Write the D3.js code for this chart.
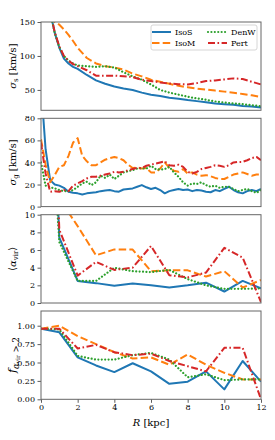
<!DOCTYPE html>
<html>
<head>
<meta charset="utf-8">
<script src="https://cdn.jsdelivr.net/npm/d3@7"></script>
<style>
  body { margin: 0; background: #fff; }
  svg text { font-family: "DejaVu Serif", serif; fill: #000; }
</style>
</head>
<body>
<svg id="chart" width="275" height="440"></svg>
<script>
// series names and colours
const models = ["IsoS", "IsoM", "DenW", "Pert"];
const colors = ["#1f77b4", "#ff7f0e", "#2ca02c", "#d62728"];

// radii for the stellar dispersion profile
const rStar = [0.5, 0.75, 1, 1.25, 1.5, 1.75, 2, 2.5, 3, 3.5, 4, 4.5, 5, 5.5, 6, 6.5, 7, 7.5, 8, 8.5, 9, 9.5, 10, 10.5, 11, 11.5, 12];
const sigStarIsoS = [165, 134, 112, 96, 89, 84, 81, 72, 64, 59, 55, 52, 50, 46, 43, 41, 38.5, 37, 35, 33.5, 32, 30, 29, 28, 26.5, 25.5, 24];
const sigStarIsoM = [175, 150, 146, 139, 131, 122, 112, 97, 89, 85, 83, 80, 74, 70, 65, 62, 59, 56, 54, 52, 50.5, 49, 47.5, 46, 44, 42, 39.5];
const sigStarDenW = [165, 134, 113, 100, 93, 89, 86, 85, 84, 85, 83, 76, 70, 65, 58, 50, 46, 43, 40, 37.5, 35.5, 33, 31.5, 30, 29, 27.5, 26];
const sigStarPert = [166, 135, 114, 100, 93, 88, 85, 79, 71, 71, 71, 70, 69, 65, 63, 61, 59.5, 58.5, 58, 60, 63, 64, 65.5, 67, 66, 62, 58];

// radii for the gas dispersion profile
const rGas = [0, 0.25, 0.5, 0.75, 1, 1.25, 1.5, 1.75, 2, 2.25, 2.5, 2.75, 3, 3.25, 3.5, 3.75, 4, 4.25, 4.5, 4.75, 5, 5.25, 5.5, 5.75, 6, 6.25, 6.5, 6.75, 7, 7.25, 7.5, 7.75, 8, 8.25, 8.5, 8.75, 9, 9.25, 9.5, 9.75, 10, 10.25, 10.5, 10.75, 11, 11.25, 11.5, 11.75, 12];
const sigGasIsoS = [110, 52, 24, 20, 19, 17, 13.5, 12.5, 12, 11, 12, 12.5, 13, 14, 14.5, 15, 14, 13.5, 15.5, 16, 16.5, 18, 19.5, 17.5, 16, 17, 15, 12, 14, 15, 16, 15, 15.5, 14, 15, 14.5, 13.5, 13, 15, 14, 16, 18, 15, 13, 12, 14, 15, 14, 16];
const sigGasIsoM = [61, 38, 22, 28.5, 36, 37.5, 46, 58, 62, 46, 41, 37.5, 37.5, 40, 42.5, 44, 45, 44, 42, 38, 35, 35.5, 34.5, 35, 31, 31, 34.5, 40, 35, 32.5, 31.5, 34, 30, 31, 29, 28, 28.5, 27.5, 26, 25, 25, 27, 29, 30, 31, 29.5, 28, 29, 29];
const sigGasDenW = [40, 19, 17.5, 16.5, 15, 14, 14, 15, 18, 21, 22.5, 19.5, 22, 28, 26, 29, 25, 28, 31, 32, 33, 34.5, 34.5, 34.5, 37, 34, 33.5, 34, 36, 31, 27, 22, 19, 21, 20.5, 22, 19.5, 18, 19, 17, 18, 18, 16, 14, 15, 16, 14, 12.5, 15];
const sigGasPert = [58, 30, 13.5, 14, 13.5, 15, 14, 19, 21, 23, 25.5, 27, 27, 28, 29, 30, 31.5, 31, 31.5, 33, 34, 35, 35, 37, 38, 39, 40, 41, 37.5, 37, 38, 36, 31.5, 30, 31.5, 34, 35, 36, 37.5, 37, 36, 37.5, 40, 40.5, 40.5, 42, 44, 45, 42];

// 1 kpc bins for the virial parameter panels
const rBin = [0, 1, 2, 3, 4, 5, 6, 7, 8, 9, 10, 11, 12];
const alphaIsoS = [60, 7.4, 2.5, 2.25, 1.95, 2.2, 2.0, 1.75, 2.0, 2.3, 1.3, 2.5, 1.65];
const alphaIsoM = [14, 11.8, 8.7, 5.4, 6.07, 6.05, 3.6, 3.7, 3.7, 3.0, 3.6, 1.75, 2.6];
const alphaDenW = [40, 6.9, 2.5, 2.5, 4.0, 3.6, 3.5, 3.75, 2.7, 2.0, 1.6, 1.6, 1.65];
const alphaPert = [60, 8.3, 3.1, 4.65, 3.75, 4.0, 6.45, 3.15, 2.9, 3.45, 6.25, 5.15, 0.1];

const fracIsoS = [0.96, 0.91, 0.57, 0.46, 0.37, 0.49, 0.38, 0.21, 0.24, 0.38, 0.135, 0.52, 0.24];
const fracIsoM = [0.96, 1.0, 0.86, 0.75, 0.64, 0.555, 0.57, 0.47, 0.61, 0.47, 0.36, 0.27, 0.27];
const fracDenW = [0.96, 0.95, 0.59, 0.54, 0.54, 0.6, 0.63, 0.54, 0.3, 0.34, 0.26, 0.27, 0.27];
const fracPert = [0.96, 0.96, 0.69, 0.74, 0.64, 0.6, 0.62, 0.52, 0.45, 0.38, 0.7, 0.7, 0.0];

const xTicks = [0, 2, 4, 6, 8, 10, 12];

// line styles per model
const dashes = [null, "7.5,3.2", "0.01,3.4", "7,2.5,1.6,2.5"];
const caps = ["butt", "butt", "round", "butt"];

const left = 41, right = 261;
const panelH = 88.3;
const tops = [22, 118.3, 214.7, 311];

const svg = d3.select("#chart");
const x = d3.scaleLinear().domain([0, 12]).range([left, right]);

const panels = [
  { r: rStar, series: [sigStarIsoS, sigStarIsoM, sigStarDenW, sigStarPert], domain: [20, 150], ticks: [50, 100, 150], fmt: d3.format("d") },
  { r: rGas, series: [sigGasIsoS, sigGasIsoM, sigGasDenW, sigGasPert], domain: [0, 80], ticks: [0, 20, 40, 60, 80], fmt: d3.format("d") },
  { r: rBin, series: [alphaIsoS, alphaIsoM, alphaDenW, alphaPert], domain: [0, 10], ticks: [0, 2, 4, 6, 8, 10], fmt: d3.format("d") },
  { r: rBin, series: [fracIsoS, fracIsoM, fracDenW, fracPert], domain: [0, 1.2], ticks: [0, 0.25, 0.5, 0.75, 1.0], fmt: d3.format(".2f") }
];

panels.forEach((p, i) => {
  const top = tops[i];
  const y = d3.scaleLinear().domain(p.domain).range([top + panelH, top]);

  svg.append("clipPath").attr("id", "clip" + i)
    .append("rect").attr("x", left).attr("y", top).attr("width", right - left).attr("height", panelH);

  const g = svg.append("g").attr("clip-path", `url(#clip${i})`);
  const line = d3.line().x((d, k) => x(p.r[k])).y(d => y(d));

  p.series.forEach((s, j) => {
    g.append("path")
      .datum(s)
      .attr("d", line)
      .attr("fill", "none")
      .attr("stroke", colors[j])
      .attr("stroke-width", j === 2 ? 2.2 : 2)
      .attr("stroke-dasharray", dashes[j])
      .attr("stroke-linecap", caps[j])
      .attr("stroke-linejoin", "round");
  });

  // y axis
  const yAxis = svg.append("g")
    .attr("transform", `translate(${left},0)`)
    .call(d3.axisLeft(y).tickValues(p.ticks).tickFormat(p.fmt).tickSize(3.5).tickPadding(2.5));
  yAxis.select(".domain").remove();
  yAxis.selectAll("line").attr("stroke", "#333").attr("stroke-width", 0.8);
  yAxis.selectAll("text").attr("font-size", 8).attr("font-family", "DejaVu Serif");

  if (i === 3) {
    const xAxis = svg.append("g")
      .attr("transform", `translate(0,${top + panelH})`)
      .call(d3.axisBottom(x).tickValues(xTicks).tickFormat(d3.format("d")).tickSize(3.5).tickPadding(2));
    xAxis.select(".domain").remove();
    xAxis.selectAll("line").attr("stroke", "#333").attr("stroke-width", 0.8);
    xAxis.selectAll("text").attr("font-size", 8).attr("font-family", "DejaVu Serif");
  }

  // frame
  svg.append("rect")
    .attr("x", left).attr("y", top)
    .attr("width", right - left).attr("height", panelH)
    .attr("fill", "none").attr("stroke", "#666").attr("stroke-width", 1);
});

// y axis titles
function yTitle(i, build) {
  const t = svg.append("text")
    .attr("transform", `translate(16,${tops[i] + panelH / 2}) rotate(-90)`)
    .attr("text-anchor", "middle")
    .attr("font-size", 10);
  build(t);
}
yTitle(0, t => {
  t.append("tspan").attr("font-style", "italic").text("σ");
  t.append("tspan").attr("font-size", 7).attr("dy", 2).text("s");
  t.append("tspan").attr("dy", -2).text(" [km/s]");
});
yTitle(1, t => {
  t.append("tspan").attr("font-style", "italic").text("σ");
  t.append("tspan").attr("font-size", 7).attr("dy", 2).text("g");
  t.append("tspan").attr("dy", -2).text(" [km/s]");
});
yTitle(2, t => {
  t.append("tspan").text("⟨");
  t.append("tspan").attr("font-style", "italic").text("α");
  t.append("tspan").attr("font-size", 7).attr("dy", 2).text("vir");
  t.append("tspan").attr("dy", -2).text("⟩");
});
yTitle(3, t => {
  t.append("tspan").attr("font-style", "italic").attr("font-size", 11).text("f");
  t.append("tspan").attr("font-size", 8.5).attr("dy", 2.5).attr("font-style", "italic").text("α");
  t.append("tspan").attr("font-size", 6).attr("dy", 1.5).text("vir");
  t.append("tspan").attr("font-size", 8.5).attr("dy", -1.5).text(" > 2");
});

// x axis title
const xt = svg.append("text")
  .attr("x", (left + right) / 2).attr("y", 426)
  .attr("text-anchor", "middle").attr("font-size", 10);
xt.append("tspan").attr("font-style", "italic").text("R");
xt.append("tspan").text(" [kpc]");

// legend
const legend = svg.append("g").attr("id", "legend");
legend.append("rect")
  .attr("x", 151).attr("y", 25).attr("width", 106).attr("height", 25).attr("rx", 2)
  .attr("fill", "#fff").attr("fill-opacity", 0.85).attr("stroke", "#ccc").attr("stroke-width", 0.8);

const legendPos = [[152, 32], [152, 43], [208, 32], [208, 43]];
models.forEach((m, j) => {
  const [lx, ly] = legendPos[j];
  legend.append("line")
    .attr("x1", lx).attr("x2", lx + 19).attr("y1", ly).attr("y2", ly)
    .attr("stroke", colors[j]).attr("stroke-width", j === 2 ? 2.2 : 2)
    .attr("stroke-dasharray", dashes[j]).attr("stroke-linecap", caps[j]);
  legend.append("text")
    .attr("x", lx + 23).attr("y", ly + 3)
    .attr("font-size", 8).text(m);
});
</script>
</body>
</html>
